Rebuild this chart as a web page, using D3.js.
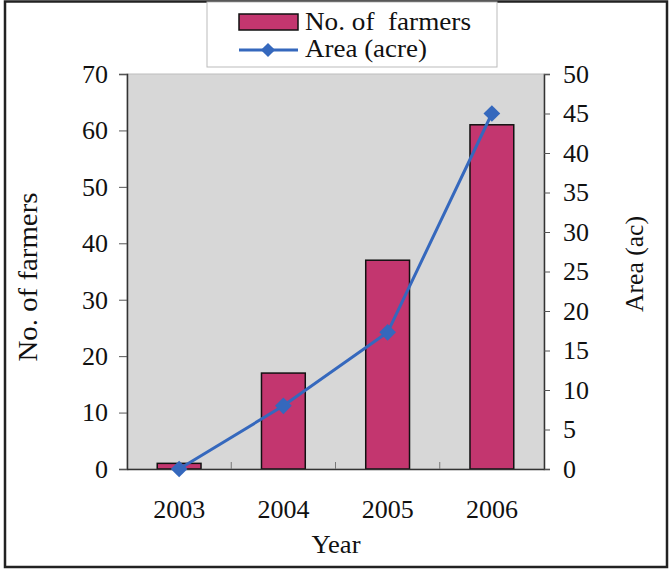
<!DOCTYPE html>
<html><head><meta charset="utf-8">
<script src="https://cdn.jsdelivr.net/npm/d3@7"></script>
<style>body{margin:0;background:#fff}svg{display:block}</style>
</head><body>
<script>
const years = ["2003","2004","2005","2006"];
const farmers = [1, 17, 37, 61];
const area = [0, 8, 17.3, 45];
const leftTicks = [0,10,20,30,40,50,60,70];
const rightTicks = [0,5,10,15,20,25,30,35,40,45,50];

const W = 669, H = 569;
const m = {left:127, right:544, top:74, bottom:469};
const font = "'Liberation Serif','Times New Roman',serif";
const svg = d3.select("body").append("svg").attr("width",W).attr("height",H);

// outer frame
svg.append("rect").attr("x",5).attr("y",1.5).attr("width",662).attr("height",565.5)
  .attr("fill","#fff").attr("stroke","#222").attr("stroke-width",2.5);

const x = d3.scaleBand().domain(years).range([m.left,m.right]).paddingInner(0.58).paddingOuter(0.29);
const xb = d3.scaleBand().domain(years).range([m.left,m.right]);
const yL = d3.scaleLinear().domain([0,70]).range([m.bottom,m.top]);
const yR = d3.scaleLinear().domain([0,50]).range([m.bottom,m.top]);

svg.append("rect").attr("x",m.left).attr("y",m.top).attr("width",m.right-m.left).attr("height",m.bottom-m.top)
  .attr("fill","#d7d7d7").attr("stroke","#bdbdbd");

// bars
svg.selectAll("rect.bar").data(farmers).enter().append("rect").attr("class","bar")
  .attr("x",(d,i)=>x(years[i])).attr("width",x.bandwidth())
  .attr("y",d=>yL(d)).attr("height",d=>yL(0)-yL(d))
  .attr("fill","#c3366f").attr("stroke","#111").attr("stroke-width",1.5);

// axes
const gL = svg.append("g").attr("transform",`translate(${m.left},0)`)
  .call(d3.axisLeft(yL).tickValues(leftTicks).tickSize(8).tickPadding(11));
const gR = svg.append("g").attr("transform",`translate(${m.right},0)`)
  .call(d3.axisRight(yR).tickValues(rightTicks).tickSize(6).tickPadding(13));
const gB = svg.append("g").attr("transform",`translate(0,${m.bottom})`)
  .call(d3.axisBottom(xb).tickSize(0).tickPadding(31));
[gL,gR,gB].forEach(g=>{
  g.selectAll("text").attr("font-family",font).attr("font-size",26).attr("fill","#111");
  g.select(".domain").attr("stroke","#333").attr("stroke-width",1.5);
  g.selectAll(".tick line").attr("stroke","#555");
});
// inner ticks at category boundaries on x axis
svg.append("g").selectAll("line").data(years.slice(1)).enter().append("line")
  .attr("x1",d=>xb(d)).attr("x2",d=>xb(d)).attr("y1",m.bottom).attr("y2",m.bottom-7)
  .attr("stroke","#777");

// line series
const line = d3.line().x((d,i)=>xb(years[i])+xb.bandwidth()/2).y(d=>yR(d));
svg.append("path").datum(area).attr("d",line).attr("fill","none")
  .attr("stroke","#3568bd").attr("stroke-width",3);
svg.selectAll("path.pt").data(area).enter().append("path").attr("class","pt")
  .attr("d",d3.symbol(d3.symbolSquare,140))
  .attr("transform",(d,i)=>`translate(${xb(years[i])+xb.bandwidth()/2},${yR(d)}) rotate(45)`)
  .attr("fill","#3568bd");

// axis titles
svg.append("text").attr("transform",`translate(37,277) rotate(-90)`)
  .attr("text-anchor","middle").attr("font-family",font).attr("font-size",27).attr("fill","#111")
  .attr("textLength",169).attr("lengthAdjust","spacingAndGlyphs")
  .text("No. of farmers");
svg.append("text").attr("transform",`translate(643,264) rotate(-90)`)
  .attr("text-anchor","middle").attr("font-family",font).attr("font-size",26).attr("fill","#111")
  .attr("textLength",96).attr("lengthAdjust","spacingAndGlyphs")
  .text("Area (ac)");
svg.append("text").attr("x",336).attr("y",553).attr("text-anchor","middle")
  .attr("font-family",font).attr("font-size",26).attr("fill","#111")
  .attr("textLength",49).attr("lengthAdjust","spacingAndGlyphs").text("Year");

// legend
const lg = svg.append("g");
lg.append("rect").attr("x",207).attr("y",2).attr("width",290).attr("height",65)
  .attr("fill","#fff").attr("stroke","#bbb");
lg.append("rect").attr("x",239).attr("y",14).attr("width",59).attr("height",16)
  .attr("fill","#c3366f").attr("stroke","#111").attr("stroke-width",1.5);
lg.append("line").attr("x1",239).attr("x2",298).attr("y1",50).attr("y2",50)
  .attr("stroke","#3568bd").attr("stroke-width",3);
lg.append("path").attr("d",d3.symbol(d3.symbolSquare,100))
  .attr("transform","translate(268,50) rotate(45)").attr("fill","#3568bd");
lg.append("text").attr("x",305).attr("y",30).attr("font-family",font).attr("font-size",26)
  .attr("fill","#111").style("white-space","pre").attr("textLength",166).attr("lengthAdjust","spacingAndGlyphs")
  .text("No. of  farmers");
lg.append("text").attr("x",305).attr("y",57).attr("font-family",font).attr("font-size",26)
  .attr("fill","#111").attr("textLength",122).attr("lengthAdjust","spacingAndGlyphs").text("Area (acre)");
</script>
</body></html>
